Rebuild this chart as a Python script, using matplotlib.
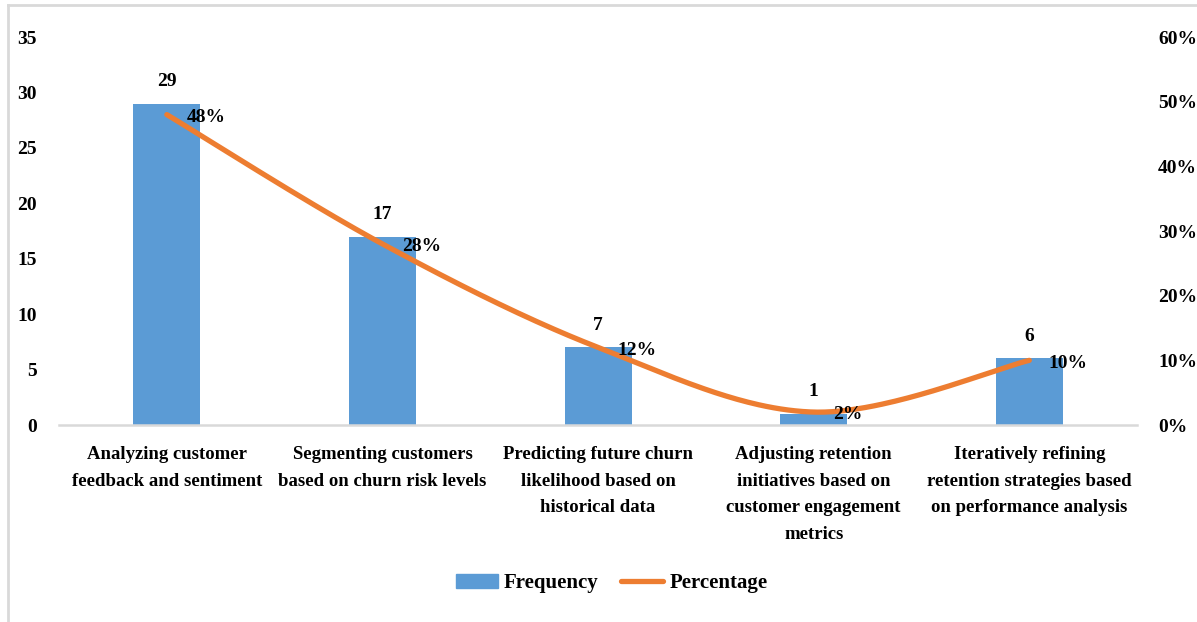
import numpy as np
import matplotlib.pyplot as plt
from matplotlib.lines import Line2D
from matplotlib.patches import Patch

categories = [
    "Analyzing customer\nfeedback and sentiment",
    "Segmenting customers\nbased on churn risk levels",
    "Predicting future churn\nlikelihood based on\nhistorical data",
    "Adjusting retention\ninitiatives based on\ncustomer engagement\nmetrics",
    "Iteratively refining\nretention strategies based\non performance analysis",
]
frequency = [29, 17, 7, 1, 6]
percentage = [48, 28, 12, 2, 10]

BLUE = "#5B9BD5"
ORANGE = "#ED7D31"
GREY = "#D9D9D9"

plt.rcParams["font.family"] = ["Liberation Serif", "DejaVu Serif"]
plt.rcParams["font.weight"] = "bold"


def smooth(xs, ys, n=60):
    # excel-style smoothed line: bezier segments with catmull-rom handles
    xs = np.asarray(xs, float)
    ys = np.asarray(ys, float)
    px, py = [], []
    for i in range(len(xs) - 1):
        i0, i3 = max(i - 1, 0), min(i + 2, len(xs) - 1)
        p0 = np.array([xs[i], ys[i]])
        p3 = np.array([xs[i + 1], ys[i + 1]])
        c1 = p0 + (np.array([xs[i + 1], ys[i + 1]]) - np.array([xs[i0], ys[i0]])) / 6
        c2 = p3 - (np.array([xs[i3], ys[i3]]) - np.array([xs[i], ys[i]])) / 6
        t = np.linspace(0, 1, n)[:, None]
        pts = ((1 - t) ** 3) * p0 + 3 * ((1 - t) ** 2) * t * c1 + 3 * (1 - t) * t ** 2 * c2 + t ** 3 * p3
        px.extend(pts[:, 0])
        py.extend(pts[:, 1])
    return px, py


fig = plt.figure(figsize=(11.97, 6.22), dpi=100)
ax = fig.add_axes([0.0493, 0.3167, 0.9007, 0.6238])
ax2 = ax.twinx()

x = np.arange(len(categories))
bars = ax.bar(x, frequency, width=0.31, color=BLUE, zorder=2)
ax.set_xlim(-0.5, len(categories) - 0.5)
ax.set_ylim(0, 35)
ax.set_yticks(range(0, 36, 5))

sx, sy = smooth(x, percentage)
ax2.plot(sx, sy, color=ORANGE, lw=3.8, solid_capstyle="round", zorder=3)
ax2.set_ylim(0, 60)
ax2.set_yticks(range(0, 61, 10))
ax2.set_yticklabels([f"{v}%" for v in range(0, 61, 10)])

for a in (ax, ax2):
    for s in a.spines.values():
        s.set_visible(False)
    a.tick_params(length=0, labelsize=14)
ax.spines["bottom"].set_visible(True)
ax.spines["bottom"].set_color(GREY)
ax.spines["bottom"].set_linewidth(1.8)
ax.tick_params(axis="y", pad=16)
ax2.tick_params(axis="y", pad=15)

ax.set_xticks(x)
ax.set_xticklabels(categories, fontsize=13.5, linespacing=1.75)
ax.tick_params(axis="x", pad=15)

for xi, v in zip(x, frequency):
    ax.annotate(str(v), (xi, v), xytext=(0, 10), textcoords="offset points",
                ha="center", va="bottom", fontsize=14)
for xi, p in zip(x, percentage):
    ax2.annotate(f"{p}%", (xi, p), xytext=(14, -2), textcoords="offset points",
                 ha="left", va="center", fontsize=14, zorder=4)

handles = [Patch(color=BLUE, label="Frequency"),
           Line2D([0], [0], color=ORANGE, lw=3.8, solid_capstyle="round", label="Percentage")]
fig.legend(handles=handles, loc="center", bbox_to_anchor=(0.511, 0.062), ncol=2,
           frameon=False, fontsize=15, handlelength=2.0, handleheight=0.6,
           columnspacing=1.1, handletextpad=0.3)

# thin frame along the top and left edges
fig.add_artist(Line2D([8 / 1197, 8 / 1197], [0, 1 - 5 / 622], color=GREY, lw=2, transform=fig.transFigure))
fig.add_artist(Line2D([8 / 1197, 1], [1 - 5 / 622, 1 - 5 / 622], color=GREY, lw=2, transform=fig.transFigure))

fig.savefig("out.png", dpi=100)
